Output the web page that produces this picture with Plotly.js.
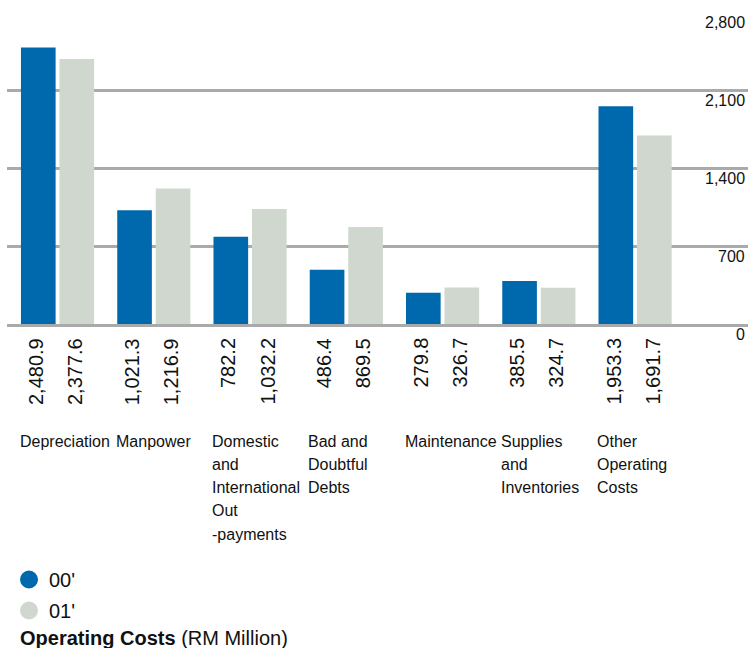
<!DOCTYPE html>
<html>
<head>
<meta charset="utf-8">
<script src="https://cdn.plot.ly/plotly-3.0.1.min.js"></script>
<style>html,body{margin:0;padding:0;background:#fff}#chart{width:748px;height:648px}</style>
</head>
<body>
<div id="chart"></div>
<script>
// ---- data ----
var categories = ["Depreciation", "Manpower", "Domestic and International Out -payments", "Bad and Doubtful Debts", "Maintenance", "Supplies and Inventories", "Other Operating Costs"];
var categoryLabels = ["Depreciation", "Manpower", "Domestic<br>and<br>International<br>Out<br>-payments", "Bad and<br>Doubtful<br>Debts", "Maintenance", "Supplies<br>and<br>Inventories", "Other<br>Operating<br>Costs"];
var series00 = [2480.9, 1021.3, 782.2, 486.4, 279.8, 385.5, 1953.3];
var series01 = [2377.6, 1216.9, 1032.2, 869.5, 326.7, 324.7, 1691.7];
var seriesNames = ["00'", "01'"];
var tickVals = [0, 700, 1400, 2100, 2800];
var tickText = ["0", "700", "1,400", "2,100", "2,800"];

var BLUE = "#0069ae", GREY = "#cfd7cf", LINE = "#aaaaaa";
var ARIAL = "Liberation Sans, Arial, sans-serif";

function fmt(v) {
  return v.toLocaleString("en-US", {minimumFractionDigits: 1, maximumFractionDigits: 1});
}

var traces = [
  {type: "bar", x: categories, y: series00, name: seriesNames[0], marker: {color: BLUE}, showlegend: false, hoverinfo: "none"},
  {type: "bar", x: categories, y: series01, name: seriesNames[1], marker: {color: GREY}, showlegend: false, hoverinfo: "none"},
  {type: "scatter", mode: "markers", x: [null], y: [null], name: seriesNames[0], legendgroup: "a",
   marker: {color: BLUE, size: 16, line: {color: BLUE, width: 2}}},
  {type: "scatter", mode: "markers", x: [null], y: [null], name: seriesNames[1], legendgroup: "b",
   marker: {color: GREY, size: 16, line: {color: GREY, width: 2}}}
];

var annotations = [];
var shapes = [];
categories.forEach(function (c, i) {
  [series00, series01].forEach(function (s, k) {
    annotations.push({
      x: c, y: 0, xref: "x", yref: "y", text: fmt(s[i]), showarrow: false,
      textangle: -90, xanchor: "center", yanchor: "top",
      xshift: (k === 0 ? -22 : 17), yshift: -12,
      font: {family: ARIAL, size: 20, color: "#111"}
    });
  });
  categoryLabels[i].split("<br>").forEach(function (line, j) {
    annotations.push({
      x: c, y: 0, xref: "x", yref: "y", text: line, showarrow: false,
      xanchor: "left", yanchor: "middle", align: "left",
      xshift: -40, yshift: -117 - 23.3 * j,
      font: {family: ARIAL, size: 16, color: "#111"}
    });
  });
  [-0.045, 0.4].forEach(function (o) {
    shapes.push({
      type: "line", xref: "x", yref: "y", x0: i + o, x1: i + o,
      ysizemode: "pixel", yanchor: 0, y0: 0, y1: -19,
      line: {color: LINE, width: 2.5}, layer: "above"
    });
  });
});
tickVals.forEach(function (v, j) {
  annotations.push({
    x: 1, xref: "paper", y: v, yref: "y", text: tickText[j], showarrow: false,
    xanchor: "right", yanchor: "middle", xshift: -1, yshift: -10,
    font: {family: ARIAL, size: 16, color: "#111"}
  });
});

var layout = {
  width: 748, height: 648,
  margin: {l: 7, r: 0, t: 12, b: 324, pad: 0, autoexpand: false},
  paper_bgcolor: "#fff", plot_bgcolor: "#fff",
  barmode: "group", bargap: 0.2, bargroupgap: 0.1,
  showlegend: true,
  legend: {
    xref: "container", yref: "container", x: 9 / 748, y: 1 - 560 / 648,
    xanchor: "left", yanchor: "top", tracegroupgap: 2,
    font: {family: ARIAL, size: 20, color: "#111"}, bgcolor: "rgba(0,0,0,0)"
  },
  title: {
    text: "<b>Operating Costs</b> (RM Million)",
    xref: "container", yref: "container", x: 20 / 748, y: (648 - 638) / 648,
    xanchor: "left", yanchor: "middle",
    font: {family: ARIAL, size: 20, color: "#111"}
  },
  xaxis: {
    type: "category", range: [-0.525, 7.173], showticklabels: false, ticks: "",
    showgrid: false, zeroline: false, showline: true, linecolor: LINE, linewidth: 3, fixedrange: true
  },
  yaxis: {
    range: [0, 2800], tickvals: tickVals, showticklabels: false, ticks: "",
    showgrid: true, gridcolor: LINE, gridwidth: 3, zeroline: false, showline: false, fixedrange: true
  },
  annotations: annotations,
  shapes: shapes
};

Plotly.newPlot("chart", traces, layout, {displayModeBar: false, staticPlot: true});
</script>
</body>
</html>
